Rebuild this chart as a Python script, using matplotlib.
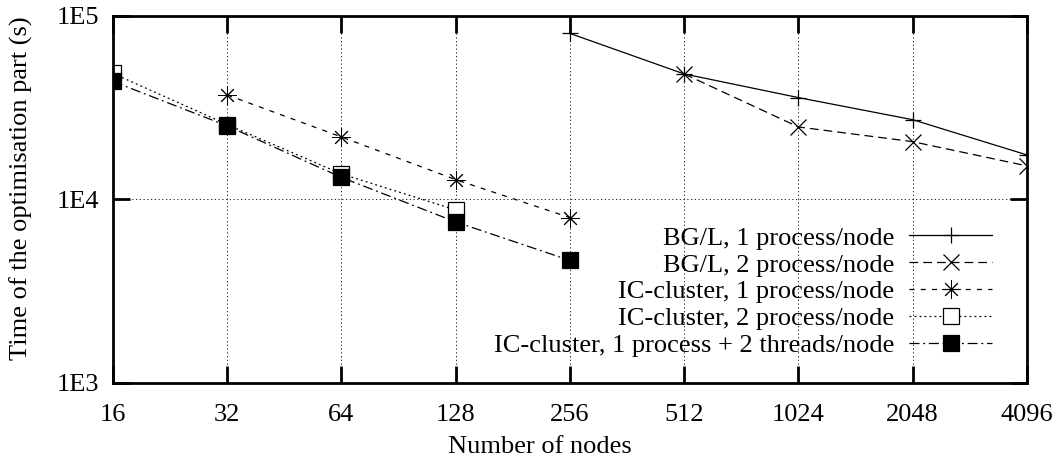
import matplotlib
matplotlib.use("Agg")
import matplotlib.pyplot as plt
from matplotlib.ticker import FixedLocator, FixedFormatter, NullLocator

plt.rcParams['font.family'] = ['Liberation Serif', 'DejaVu Serif']

# node counts
nodes = [16, 32, 64, 128, 256, 512, 1024, 2048, 4096]

# BG/L runs
bgl1_x = [256, 512, 1024, 2048, 4096]
bgl1_y = [80300, 48300, 35900, 27200, 17480]
bgl2_x = [512, 1024, 2048, 4096]
bgl2_y = [48300, 24830, 20650, 15230]

# IC-cluster runs
ic1_x = [32, 64, 128, 256]
ic1_y = [37100, 21900, 12820, 7960]
ic2_x = [16, 32, 64, 128]
ic2_y = [48600, 25600, 13770, 8770]
ic_thr_x = [16, 32, 64, 128, 256]
ic_thr_y = [43970, 25160, 13180, 7540, 4650]

labels = ["BG/L, 1 process/node",
          "BG/L, 2 process/node",
          "IC-cluster, 1 process/node",
          "IC-cluster, 2 process/node",
          "IC-cluster, 1 process + 2 threads/node"]

fs = 19

fig = plt.figure(figsize=(10.56, 4.63), dpi=100)
ax = fig.add_axes([0.107, 0.173, 0.8655, 0.7925])

lw = 0.9
ax.plot(bgl1_x, bgl1_y, color='black', lw=lw, linestyle='-',
        marker='+', markersize=12, mew=lw, label=labels[0])
ax.plot(bgl2_x, bgl2_y, color='black', lw=lw, linestyle=(0, (7, 4)),
        marker='x', markersize=11, mew=lw, label=labels[1])
ax.plot(ic1_x, ic1_y, color='black', lw=lw, linestyle=(0, (4, 5)),
        marker=(8, 2, 0), markersize=13, mew=0.7, label=labels[2])
ax.plot(ic2_x, ic2_y, color='black', lw=lw, linestyle=(0, (1.5, 2.5)),
        marker='s', markersize=12, mew=lw, markerfacecolor='white',
        label=labels[3])
ax.plot(ic_thr_x, ic_thr_y, color='black', lw=lw, linestyle=(0, (8, 3, 1.5, 3)),
        marker='s', markersize=12, mew=lw, markerfacecolor='black',
        label=labels[4])

ax.set_xscale('log', base=2)
ax.set_yscale('log')
ax.set_xlim(16, 4096)
ax.set_ylim(1e3, 1e5)

ax.xaxis.set_major_locator(FixedLocator(nodes))
ax.xaxis.set_major_formatter(FixedFormatter([str(n) for n in nodes]))
ax.xaxis.set_minor_locator(NullLocator())
ax.yaxis.set_major_locator(FixedLocator([1e3, 1e4, 1e5]))
ax.yaxis.set_major_formatter(FixedFormatter(["1E3", "1E4", "1E5"]))
ax.yaxis.set_minor_locator(NullLocator())

ax.tick_params(axis='both', which='major', direction='in', length=12, width=2,
               top=True, right=True, labelsize=fs, color='black')
ax.tick_params(axis='x', pad=15)
ax.tick_params(axis='y', pad=10)

ax.grid(True, which='major', color='black', lw=0.6, linestyle=(0, (1.5, 3)))

for s in ax.spines.values():
    s.set_linewidth(2)

ax.set_xlabel("Number of nodes", fontsize=fs)
ax.set_ylabel("Time of the optimisation part (s)", fontsize=fs)
ax.xaxis.set_label_coords(0.467, -0.145)
ax.yaxis.set_label_coords(-0.088, 0.531)

ax.legend(loc='lower right', bbox_to_anchor=(0.962, 0.07), frameon=False,
          markerfirst=False, fontsize=fs, handlelength=3.15, handletextpad=0.55,
          labelspacing=0.13, borderaxespad=0, borderpad=0)

fig.savefig("out.png", dpi=100)
